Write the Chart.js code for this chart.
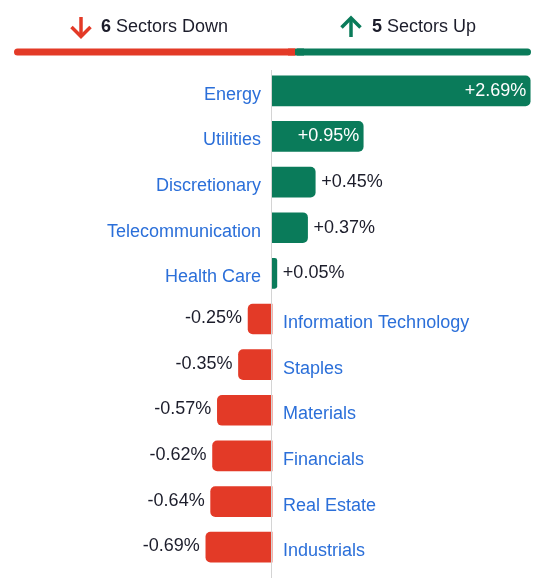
<!DOCTYPE html>
<html>
<head>
<meta charset="utf-8">
<script src="https://cdn.jsdelivr.net/npm/chart.js@4"></script>
<style>
  html, body { margin: 0; padding: 0; background: #fff; }
  #wrap { width: 559px; height: 582px; }
</style>
</head>
<body>
<div id="wrap"><canvas id="sectorChart"></canvas></div>
<script>
// sector performance, % change on the day
const sectors = ["Energy", "Utilities", "Discretionary", "Telecommunication", "Health Care",
  "Information Technology", "Staples", "Materials", "Financials", "Real Estate", "Industrials"];
const changes = [2.69, 0.95, 0.45, 0.37, 0.05, -0.25, -0.35, -0.57, -0.62, -0.64, -0.69];

const GREEN = "#0a7b5a";
const RED = "#e33a27";
const BLUE = "#2b6fd9";
const DARK = "#1c1d2b";
const FONT = '"Liberation Sans", Arial, sans-serif';

const fmt = v => (v > 0 ? "+" : "") + v.toFixed(2) + "%";

// header: arrows, counts and the split bar
const headerPlugin = {
  id: "header",
  afterDraw(chart) {
    const ctx = chart.ctx;
    const down = changes.filter(v => v < 0).length;
    const up = changes.filter(v => v > 0).length;
    const left = 14, right = 531, gap = 2;
    const split = left + (right - left) * down / (down + up);

    ctx.save();
    // split bar
    ctx.lineCap = "round";
    ctx.lineWidth = 7;
    ctx.strokeStyle = RED;
    ctx.beginPath(); ctx.moveTo(left + 3.5, 52); ctx.lineTo(split - gap / 2, 52); ctx.stroke();
    ctx.strokeStyle = GREEN;
    ctx.beginPath(); ctx.moveTo(split + gap / 2, 52); ctx.lineTo(right - 3.5, 52); ctx.stroke();
    // squared inner ends
    ctx.fillStyle = RED; ctx.fillRect(split - 8, 48.5, 7, 7);
    ctx.fillStyle = GREEN; ctx.fillRect(split + 1, 48.5, 7, 7);

    // arrows
    ctx.lineWidth = 3.5;
    ctx.lineCap = "butt";
    ctx.lineJoin = "miter";
    ctx.strokeStyle = RED;
    ctx.beginPath(); ctx.moveTo(81, 17); ctx.lineTo(81, 36); ctx.stroke();
    ctx.beginPath(); ctx.moveTo(71.5, 27); ctx.lineTo(81, 36.5); ctx.lineTo(90.5, 27); ctx.stroke();
    ctx.strokeStyle = GREEN;
    ctx.beginPath(); ctx.moveTo(351, 18); ctx.lineTo(351, 37); ctx.stroke();
    ctx.beginPath(); ctx.moveTo(341.5, 27.5); ctx.lineTo(351, 18); ctx.lineTo(360.5, 27.5); ctx.stroke();

    // texts
    ctx.textBaseline = "alphabetic";
    ctx.textAlign = "left";
    ctx.fillStyle = DARK;
    const drawCount = (x, n, label) => {
      ctx.font = "bold 18px " + FONT;
      ctx.fillText(String(n), x, 32);
      const w = ctx.measureText(String(n)).width;
      ctx.font = "18px " + FONT;
      ctx.fillText(label, x + w + 5, 32);
    };
    drawCount(101, down, "Sectors Down");
    drawCount(372, up, "Sectors Up");
    ctx.restore();
  }
};

// zero line, sector names and value labels
const labelPlugin = {
  id: "labels",
  afterDatasetsDraw(chart) {
    const ctx = chart.ctx;
    const xs = chart.scales.x;
    const x0 = xs.getPixelForValue(0);
    const meta = chart.getDatasetMeta(0);
    ctx.save();
    ctx.strokeStyle = "#d4d4d4";
    ctx.lineWidth = 1;
    ctx.beginPath(); ctx.moveTo(Math.round(x0) - 0.5, 70); ctx.lineTo(Math.round(x0) - 0.5, 578); ctx.stroke();

    ctx.font = "18px " + FONT;
    ctx.textBaseline = "middle";
    meta.data.forEach((bar, i) => {
      const v = changes[i];
      const y = bar.y;
      const txt = fmt(v);
      const tw = ctx.measureText(txt).width;
      // sector name on the opposite side of the bar
      ctx.fillStyle = BLUE;
      if (v >= 0) {
        ctx.textAlign = "right";
        ctx.fillText(sectors[i], x0 - 11, y + 4);
      } else {
        ctx.textAlign = "left";
        ctx.fillText(sectors[i], x0 + 11, y + 4);
      }
      // value
      const barLen = Math.abs(bar.x - x0);
      if (v >= 0 && barLen > tw + 14) {
        ctx.fillStyle = "#fff";
        ctx.textAlign = "right";
        ctx.fillText(txt, bar.x - 4, y);
      } else if (v >= 0) {
        ctx.fillStyle = DARK;
        ctx.textAlign = "left";
        ctx.fillText(txt, bar.x + 6, y);
      } else {
        ctx.fillStyle = DARK;
        ctx.textAlign = "right";
        ctx.fillText(txt, bar.x - 6, y - 1);
      }
    });
    ctx.restore();
  }
};

new Chart(document.getElementById("sectorChart"), {
  type: "bar",
  data: {
    labels: sectors,
    datasets: [{
      data: changes,
      backgroundColor: changes.map(v => v >= 0 ? GREEN : RED),
      borderRadius: 5,
      borderSkipped: "start",
      barThickness: 30,
    }],
  },
  options: {
    indexAxis: "y",
    responsive: true,
    maintainAspectRatio: false,
    animation: false,
    layout: { padding: { top: 68, bottom: 12, left: 0, right: 0 } },
    plugins: { legend: { display: false }, tooltip: { enabled: false } },
    scales: {
      x: { display: false, min: -2.835, max: 2.99 },
      y: { display: false },
    },
  },
  plugins: [headerPlugin, labelPlugin],
});
</script>
</body>
</html>
